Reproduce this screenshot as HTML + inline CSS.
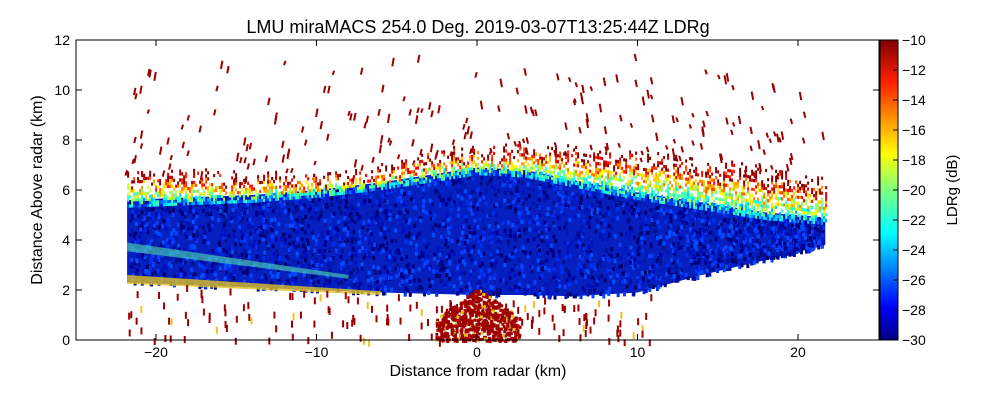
<!DOCTYPE html>
<html><head><meta charset="utf-8"><style>
body{margin:0;background:#fff;width:1000px;height:400px;overflow:hidden;font-family:"Liberation Sans",sans-serif}
svg text{font-family:"Liberation Sans",sans-serif}
</style></head><body>
<svg id="c" width="1000" height="400">
<defs>
<linearGradient id="jet" x1="0" y1="1" x2="0" y2="0">
<stop offset="0" stop-color="#000080"/><stop offset="0.11" stop-color="#0000ff"/><stop offset="0.36" stop-color="#00ffff"/><stop offset="0.5" stop-color="#80ff80"/><stop offset="0.62" stop-color="#ffff00"/><stop offset="0.86" stop-color="#ff2000"/><stop offset="1" stop-color="#800000"/>
</linearGradient>
</defs>
<g id="plot"></g>
<rect x="76" y="40" width="803" height="300" fill="none" stroke="#000" stroke-width="1"/>
<g id="axes"></g>
<text x="478" y="33" font-size="18" text-anchor="middle">LMU miraMACS 254.0 Deg. 2019-03-07T13:25:44Z  LDRg</text>
<text x="478" y="376" font-size="16" text-anchor="middle">Distance from radar (km)</text>
<text x="42" y="190" font-size="16" text-anchor="middle" transform="rotate(-90 42 190)">Distance Above radar  (km)</text>
<rect x="880" y="40" width="18" height="300" fill="url(#jet)" stroke="#000"/>
<g id="cbar"></g>
<text x="957" y="190" font-size="15" text-anchor="middle" transform="rotate(-90 957 190)">LDRg (dB)</text>
</svg>
<script>
const xTicks=[-20,-10,0,10,20];
const yTicks=[0,2,4,6,8,10,12];
const cbTicks=[-10,-12,-14,-16,-18,-20,-22,-24,-26,-28,-30];
const layerX=[-21.8,-18,-14,-10,-6,-3,0,3,6,10,14,18,21.7];
const layerBottom=[2.3,2.2,2.1,2.0,1.9,1.85,1.8,1.8,1.75,1.9,2.6,3.2,3.8];
const layerTop=[5.6,5.7,5.8,6.0,6.3,6.6,6.9,6.8,6.4,5.9,5.5,5.1,4.9];
const fringeTop=[6.7,6.6,6.4,6.4,6.7,7.3,7.5,7.6,7.5,7.3,7.0,6.6,6.3];
const X=v=>477+v*16.05, Y=v=>340-v*25, C=v=>40+(-10-v)*15;
const NS='http://www.w3.org/2000/svg';
const plot=document.getElementById('plot'),axes=document.getElementById('axes'),cb=document.getElementById('cbar');
function mk(p,t,a){const e=document.createElementNS(NS,t);for(const k in a)e.setAttribute(k,a[k]);p.appendChild(e);return e;}
let s=12345;const rnd=()=>{s=(s*1103515245+12345)%2147483648;return s/2147483648;};
function interp(arr,x){for(let i=0;i<layerX.length-1;i++){if(x<=layerX[i+1]){const t=(x-layerX[i])/(layerX[i+1]-layerX[i]);return arr[i]+t*(arr[i+1]-arr[i]);}}return arr[arr.length-1];}
function jet(t){t=Math.max(0,Math.min(1,t));const r=Math.min(4*t-1.5,-4*t+4.5),g=Math.min(4*t-0.5,-4*t+3.5),b=Math.min(4*t+0.5,-4*t+2.5);const c=v=>Math.round(255*Math.max(0,Math.min(1,v)));return `rgb(${c(r)},${c(g)},${c(b)})`;}
// scattered streaks above
for(let i=0;i<420;i++){const x=-22+rnd()*44,ft=interp(fringeTop,x),y=ft+rnd()*(12-ft);if(rnd()<Math.pow((12-y)/(12-ft),1.0)){const x0=X(x),y0=Y(y),L=4+rnd()*5;const r=mk(plot,'line',{x1:x0,y1:y0,x2:x0+(x>0?1:-1)*1.5,y2:y0+L,stroke:'#9a0000','stroke-width':2});}}
// layer base
let bp='';
layerX.forEach((x,i)=>{bp+=(i?'L':'M')+X(x)+','+Y(layerTop[i]);});
for(let i=layerX.length-1;i>=0;i--)bp+='L'+X(layerX[i])+','+Y(layerBottom[i]);
const b=mk(plot,'path',{d:bp+'Z',fill:'#0620c0'});


// texture in layer
const blues=['#000090','#0010c0','#0030f0','#0050ff','#00108a','#1040ff','#0018b0','#000070'];
for(let i=0;i<3200;i++){const x=-21.7+rnd()*43.3,lo=interp(layerBottom,x),hi=interp(layerTop,x),y=lo+rnd()*(hi-lo);const r=mk(plot,'rect',{x:X(x),y:Y(y),width:3,height:4,fill:blues[Math.floor(rnd()*8)]});}
// fringe columns
for(let px=X(-21.8);px<X(21.7);px+=2){const x=(px-477)/16.05,lt=interp(layerTop,x),ft=interp(fringeTop,x)+(rnd()-0.5)*0.6;for(let y=lt-0.3;y<ft;y+=0.12){const t=(y-(lt-0.3))/(ft-lt+0.3);const v=0.3+0.78*t+(rnd()-0.5)*0.35;if(rnd()<0.2+0.4*t)continue;const r=mk(plot,'rect',{x:px,y:Y(y)-3,width:2,height:3.2,fill:jet(v)});}}
// green slant band left
const g=mk(plot,'path',{d:`M${X(-21.8)},${Y(3.9)}L${X(-8)},${Y(2.6)}L${X(-8)},${Y(2.45)}L${X(-21.8)},${Y(3.55)}Z`,fill:'#50e0b0',opacity:0.6});


const g2=mk(plot,'path',{d:`M${X(-21.8)},${Y(2.6)}L${X(-6)},${Y(1.95)}L${X(-6)},${Y(1.8)}L${X(-21.8)},${Y(2.25)}Z`,fill:'#e0c020',opacity:0.8});


// lower clutter
for(let i=0;i<420;i++){const x=-22+rnd()*33,hi=interp(layerBottom,x);const y=rnd()*hi;if(rnd()<0.35){const r=mk(plot,'rect',{x:X(x),y:Y(y),width:2,height:7,fill:rnd()<0.15?'#f0c020':'#9a0000'});}}
for(let i=0;i<900;i++){const x=-2.6+rnd()*5.2,y=rnd()*2.1;if(y<2.1-Math.abs(x)*0.45){const r=mk(plot,'rect',{x:X(x),y:Y(y),width:3,height:3,fill:rnd()<0.08?'#e0c020':'#a00000'});}}
// axes
xTicks.forEach(v=>{mk(axes,'line',{x1:X(v),x2:X(v),y1:340,y2:334,stroke:'#000'});mk(axes,'line',{x1:X(v),x2:X(v),y1:40,y2:46,stroke:'#000'});const t=mk(axes,'text',{x:X(v),y:357,'font-size':14,'text-anchor':'middle'});t.textContent=v<0?'\u2212'+(-v):v;});
yTicks.forEach(v=>{mk(axes,'line',{x1:76,x2:82,y1:Y(v),y2:Y(v),stroke:'#000'});mk(axes,'line',{x1:873,x2:879,y1:Y(v),y2:Y(v),stroke:'#000'});const t=mk(axes,'text',{x:70,y:Y(v)+5,'font-size':14,'text-anchor':'end'});t.textContent=v;});
cbTicks.forEach(v=>{mk(cb,'line',{x1:893,x2:898,y1:C(v),y2:C(v),stroke:'#000'});const t=mk(cb,'text',{x:902,y:C(v)+5,'font-size':14});t.textContent='\u2212'+(-v);});
</script>
</body></html>
